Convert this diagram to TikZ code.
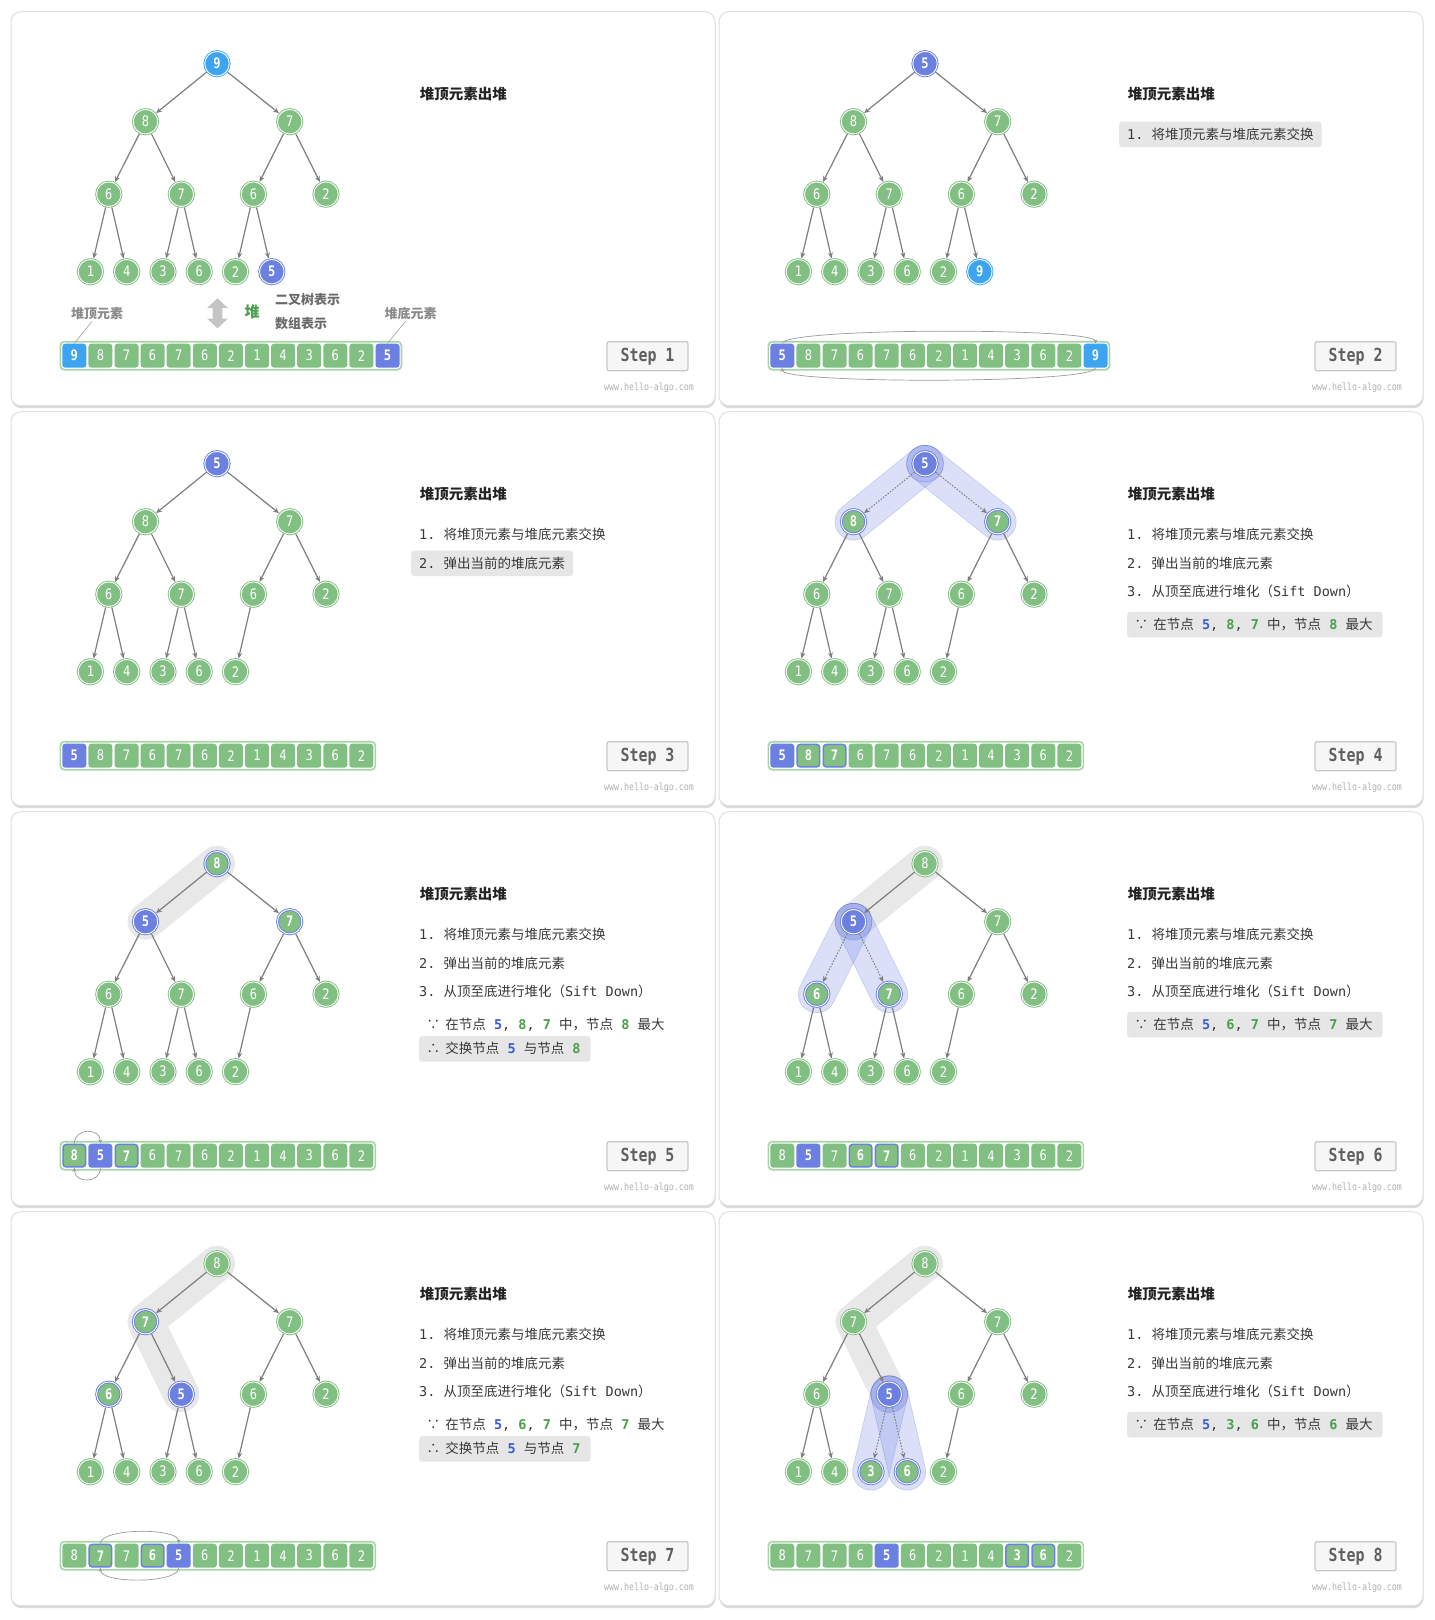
\documentclass[tikz,border=0pt]{standalone}
\usepackage{fontspec}
\setmainfont{Noto Sans CJK SC}
\newfontfamily\mono[FakeStretch=0.83]{DejaVu Sans Mono}
\newfontfamily\tmono{DejaVu Sans Mono}
\usetikzlibrary{arrows.meta}
\pgfdeclarelayer{back}\pgfdeclarelayer{bg}\pgfsetlayers{back,bg,main}
\definecolor{cG}{HTML}{82BF83}
\definecolor{cB}{HTML}{6B80E0}
\definecolor{cLB}{HTML}{3CA4F0}
\definecolor{cFrame}{HTML}{A8D4A8}
\definecolor{edgec}{HTML}{7E7E7E}
\definecolor{arcc}{HTML}{9A9A9A}
\definecolor{leadc}{HTML}{AAAAAA}
\definecolor{gbandc}{HTML}{E8E8E8}
\definecolor{bandF}{RGB}{127,146,233}
\definecolor{bandE}{RGB}{40,70,205}
\definecolor{hlc}{HTML}{E6E6E6}
\definecolor{txtc}{HTML}{383838}
\definecolor{ttlc}{HTML}{222222}
\definecolor{numbc}{HTML}{3D5AD6}
\definecolor{numgc}{HTML}{4A9E4F}
\definecolor{framec}{HTML}{E0E0E0}
\definecolor{shadowc}{HTML}{D9D9D9}
\definecolor{stepd}{HTML}{C8C8C8}
\definecolor{stepf}{HTML}{F6F6F6}
\definecolor{stept}{HTML}{5F5F5F}
\definecolor{wwwc}{HTML}{B0B0B0}
\definecolor{lblc}{HTML}{8A8A8A}
\definecolor{lbltc}{HTML}{6A6A6A}
\definecolor{dblc}{HTML}{C4C4C4}
\def\XS{{206,134.5,278.7,97.8,170.3,242.4,315,79.4,115.7,152,188.2,224.5,260.8}}
\def\YS{{52,110,110,182.5,182.5,182.5,182.5,260,260,260,260,260,260}}
\newcommand\hs{\hspace{8.13pt}}
\newcommand\numb[1]{{\tmono\bfseries\color{numbc}#1}}
\newcommand\numg[1]{{\tmono\bfseries\color{numgc}#1}}
\newcommand\tA{{\tmono 1.}\hs 将堆顶元素与堆底元素交换}
\newcommand\tB{{\tmono 2.}\hs 弹出当前的堆底元素}
\newcommand\tC{{\tmono 3.}\hs 从顶至底进行堆化（{\tmono Sift\hs Down}）}
\newcommand\becz[4]{\makebox[8.13pt]{∵}\hs 在节点\hs\numb{#1}{\tmono,}\hs\numg{#2}{\tmono,}\hs\numg{#3}\hs 中，节点\hs\numg{#4}\hs 最大}
\newcommand\thz[2]{\makebox[8.13pt]{∴}\hs 交换节点\hs\numb{#1}\hs 与节点\hs\numg{#2}}
\newcommand\drawtree[2]{%
  \foreach \v/\s/\e [count=\i from 0] in {#2}{%
    \pgfmathsetmacro\xx{\XS[\i]}%
    \pgfmathsetmacro\yy{\YS[\i]}%
    \node[\s] (#1n\i) at (\xx,\yy) {\v};%
    \ifnum\i>0\relax
      \pgfmathtruncatemacro\pp{(\i-1)/2}%
      \draw[\e] (#1n\pp) -- (#1n\i);%
    \fi
  }}
\newcommand\drawarr[3]{%
  \pgfmathsetmacro\xe{63.3+26.1*(#2-1)+14}%
  \draw[arrframe] (49.3,330) rectangle (\xe,358);%
  \foreach \v/\s [count=\i from 0] in {#3}{%
    \pgfmathsetmacro\xx{63.3+26.1*\i}%
    \node[\s] (#1a\i) at (\xx,344) {\v};%
  }}
\newcommand\swap[3]{%
  \draw[swaparc] (#1a#2.north) .. controls ([yshift=16pt]#1a#2.north) and ([yshift=16pt]#1a#3.north) .. (#1a#3.north);%
  \draw[swaparc] (#1a#3.south) .. controls ([yshift=-16pt]#1a#3.south) and ([yshift=-16pt]#1a#2.south) .. (#1a#2.south);}
\newcommand\panelbase[2]{%
  \begin{pgfonlayer}{back}%
    \fill[shadowc, rounded corners=10pt] (0.5,2) rectangle (704.5,396.5);%
    \filldraw[fill=white, draw=framec, line width=1pt, rounded corners=10pt] (0,0) rectangle (704,394);%
  \end{pgfonlayer}%
  \node[ttl] (#1t) at (408.6,82.6) {堆顶元素出堆};%
  \node[stepbox] (#1s) at (636.5,344.5) {Step #2};%
  \node[www] (#1w) at (638,375.6) {www.hello-algo.com};}
\newcommand\gband[1]{\begin{pgfonlayer}{bg}\draw[grayband] #1;\end{pgfonlayer}}
\newcommand\bband[2]{\begin{pgfonlayer}{bg}\begin{scope}[transparency group, opacity=0.28]%
  \draw[line width=37.5pt, line cap=round, draw=bandE] (#1.center) -- (#2.center);%
  \draw[line width=35.9pt, line cap=round, draw=bandF] (#1.center) -- (#2.center);%
  \end{scope}\end{pgfonlayer}}
\newcommand\halo[1]{\begin{pgfonlayer}{bg}\begin{scope}[transparency group, opacity=0.28]%
  \fill[bandE] (#1.center) circle[radius=18.7];%
  \fill[bandF] (#1.center) circle[radius=17.9];%
  \end{scope}\end{pgfonlayer}}
\begin{document}
\begin{tikzpicture}[x=1pt,y=-1pt,
  nd/.style={circle, minimum size=24.5pt, inner sep=0pt, outer sep=1.35pt, line width=0.9pt, double=white, double distance=0.9pt, text=white, font=\fontsize{14.5}{14.5}\selectfont\mono},
  ng/.style={nd, fill=cG, draw=cG},
  nb/.style={nd, fill=cB, draw=cB, font=\fontsize{14.5}{14.5}\selectfont\mono\bfseries},
  nlb/.style={nd, fill=cLB, draw=cLB, font=\fontsize{14.5}{14.5}\selectfont\mono\bfseries},
  nr/.style={nd, fill=cG, draw=cB, font=\fontsize{14.5}{14.5}\selectfont\mono\bfseries},
  cell/.style={rectangle, rounded corners=3pt, minimum width=24pt, minimum height=24pt, inner sep=0pt, text=white, font=\fontsize{14.5}{14.5}\selectfont\mono},
  cg/.style={cell, fill=cG},
  cb/.style={cell, fill=cB, font=\fontsize{14.5}{14.5}\selectfont\mono\bfseries},
  clb/.style={cell, fill=cLB, font=\fontsize{14.5}{14.5}\selectfont\mono\bfseries},
  cr/.style={cell, fill=cG, draw=cB, line width=1.5pt, minimum width=22.5pt, minimum height=22.5pt, font=\fontsize{14.5}{14.5}\selectfont\mono\bfseries},
  arrframe/.style={draw=cFrame, line width=1.6pt, fill=white, rounded corners=4pt},
  ed/.style={draw=edgec, line width=1.2pt, -{Stealth[length=6pt,width=5pt]}},
  dt/.style={ed, line width=1pt, dash pattern=on 1.5pt off 1.5pt},
  swaparc/.style={draw=arcc, line width=0.7pt, -{Stealth[length=4pt,width=3.6pt]}},
  leader/.style={draw=leadc, line width=0.7pt},
  grayband/.style={line width=36pt, line cap=round, line join=round, draw=gbandc},
  ttl/.style={anchor=west, inner sep=0pt, text=ttlc, font=\fontsize{14.5}{16}\selectfont\bfseries},
  ln/.style={anchor=west, inner xsep=8pt, inner ysep=0pt, minimum height=25.5pt, text height=11.5pt, text depth=1.6pt, text=txtc, font=\fontsize{13.5}{15}\selectfont},
  hlA/.style={ln, fill=hlc, rounded corners=3pt},
  lnB/.style={ln, inner xsep=10pt},
  hlB/.style={lnB, fill=hlc, rounded corners=3pt},
  stepbox/.style={draw=stepd, fill=stepf, line width=1.3pt, rounded corners=2pt, minimum width=81pt, minimum height=29pt, inner sep=0pt, text=stept, font=\fontsize{18}{18}\selectfont\mono\bfseries},
  www/.style={text=wwwc, inner sep=0pt, font=\fontsize{10}{10}\selectfont\mono},
  lbl/.style={text=lblc, inner sep=1.5pt, text height=11pt, text depth=1.5pt, font=\fontsize{13}{13}\selectfont\bfseries},
  lblt/.style={lbl, anchor=west, inner sep=0pt, text=lbltc},
  heapc/.style={text=numgc, inner sep=0pt, font=\fontsize{15}{15}\selectfont\bfseries}
]
\begin{pgfonlayer}{back}\fill[white] (0,0) rectangle (1435,1620);\end{pgfonlayer}
\useasboundingbox (0,0) rectangle (1435,1620);
% ---------- Step 1
\begin{scope}[shift={(11,11.7)}]
\panelbase{A}{1}
\drawtree{A}{9/nlb/ed,8/ng/ed,7/ng/ed,6/ng/ed,7/ng/ed,6/ng/ed,2/ng/ed,1/ng/ed,4/ng/ed,3/ng/ed,6/ng/ed,2/ng/ed,5/nb/ed}
\drawarr{A}{13}{9/clb,8/cg,7/cg,6/cg,7/cg,6/cg,2/cg,1/cg,4/cg,3/cg,6/cg,2/cg,5/cb}
\node[lbl] (Alt) at (86,301.6) {堆顶元素};
\node[lbl] (Alb) at (399.5,301.6) {堆底元素};
\draw[leader] ([xshift=-5pt]Alt.south) -- (Aa0.north);
\draw[leader] ([xshift=-5pt]Alb.south) -- (Aa12.north);
\fill[dblc] (206.5,286.6) -- (216.8,296.2) -- (211.3,296.2) -- (211.3,307) -- (216.8,307) -- (206.5,316.6) -- (196.2,307) -- (201.7,307) -- (201.7,296.2) -- (196.2,296.2) -- cycle;
\node[heapc] (Ah) at (241,300) {堆};
\node[lblt] (Ab1) at (264,288.3) {二叉树表示};
\node[lblt] (Ab2) at (264,312.3) {数组表示};
\end{scope}
% ---------- Step 2
\begin{scope}[shift={(719,11.7)}]
\panelbase{B}{2}
\drawtree{B}{5/nb/ed,8/ng/ed,7/ng/ed,6/ng/ed,7/ng/ed,6/ng/ed,2/ng/ed,1/ng/ed,4/ng/ed,3/ng/ed,6/ng/ed,2/ng/ed,9/nlb/ed}
\drawarr{B}{13}{5/cb,8/cg,7/cg,6/cg,7/cg,6/cg,2/cg,1/cg,4/cg,3/cg,6/cg,2/cg,9/clb}
\swap{B}{0}{12}
\node[hlA] (Bl1) at (400,122.6) {\tA};
\end{scope}
% ---------- Step 3
\begin{scope}[shift={(11,411.7)}]
\panelbase{C}{3}
\drawtree{C}{5/nb/ed,8/ng/ed,7/ng/ed,6/ng/ed,7/ng/ed,6/ng/ed,2/ng/ed,1/ng/ed,4/ng/ed,3/ng/ed,6/ng/ed,2/ng/ed}
\drawarr{C}{12}{5/cb,8/cg,7/cg,6/cg,7/cg,6/cg,2/cg,1/cg,4/cg,3/cg,6/cg,2/cg}
\node[ln] (Cl1) at (400,122.6) {\tA};
\node[hlA] (Cl2) at (400,151.6) {\tB};
\end{scope}
% ---------- Step 4
\begin{scope}[shift={(719,411.7)}]
\panelbase{D}{4}
\drawtree{D}{5/nb/ed,8/nr/dt,7/nr/dt,6/ng/ed,7/ng/ed,6/ng/ed,2/ng/ed,1/ng/ed,4/ng/ed,3/ng/ed,6/ng/ed,2/ng/ed}
\bband{Dn0}{Dn1}\bband{Dn0}{Dn2}\halo{Dn0}
\drawarr{D}{12}{5/cb,8/cr,7/cr,6/cg,7/cg,6/cg,2/cg,1/cg,4/cg,3/cg,6/cg,2/cg}
\node[ln] (Dl1) at (400,122.6) {\tA};
\node[ln] (Dl2) at (400,151.6) {\tB};
\node[ln] (Dl3) at (400,180) {\tC};
\node[hlB] (Dl4) at (408,212.8) {\becz{5}{8}{7}{8}};
\end{scope}
% ---------- Step 5
\begin{scope}[shift={(11,811.7)}]
\panelbase{E}{5}
\drawtree{E}{8/nr/ed,5/nb/ed,7/nr/ed,6/ng/ed,7/ng/ed,6/ng/ed,2/ng/ed,1/ng/ed,4/ng/ed,3/ng/ed,6/ng/ed,2/ng/ed}
\gband{(En0.center) -- (En1.center)}
\drawarr{E}{12}{8/cr,5/cb,7/cr,6/cg,7/cg,6/cg,2/cg,1/cg,4/cg,3/cg,6/cg,2/cg}
\swap{E}{0}{1}
\node[ln] (El1) at (400,122.6) {\tA};
\node[ln] (El2) at (400,151.6) {\tB};
\node[ln] (El3) at (400,180) {\tC};
\node[lnB] (El4) at (408,212.8) {\becz{5}{8}{7}{8}};
\node[hlB] (El5) at (408,237.2) {\thz{5}{8}};
\end{scope}
% ---------- Step 6
\begin{scope}[shift={(719,811.7)}]
\panelbase{F}{6}
\drawtree{F}{8/ng/ed,5/nb/ed,7/ng/ed,6/nr/dt,7/nr/dt,6/ng/ed,2/ng/ed,1/ng/ed,4/ng/ed,3/ng/ed,6/ng/ed,2/ng/ed}
\gband{(Fn0.center) -- (Fn1.center)}
\bband{Fn1}{Fn3}\bband{Fn1}{Fn4}\halo{Fn1}
\drawarr{F}{12}{8/cg,5/cb,7/cg,6/cr,7/cr,6/cg,2/cg,1/cg,4/cg,3/cg,6/cg,2/cg}
\node[ln] (Fl1) at (400,122.6) {\tA};
\node[ln] (Fl2) at (400,151.6) {\tB};
\node[ln] (Fl3) at (400,180) {\tC};
\node[hlB] (Fl4) at (408,212.8) {\becz{5}{6}{7}{7}};
\end{scope}
% ---------- Step 7
\begin{scope}[shift={(11,1211.7)}]
\panelbase{G}{7}
\drawtree{G}{8/ng/ed,7/nr/ed,7/ng/ed,6/nr/ed,5/nb/ed,6/ng/ed,2/ng/ed,1/ng/ed,4/ng/ed,3/ng/ed,6/ng/ed,2/ng/ed}
\gband{(Gn0.center) -- (Gn1.center) -- (Gn4.center)}
\drawarr{G}{12}{8/cg,7/cr,7/cg,6/cr,5/cb,6/cg,2/cg,1/cg,4/cg,3/cg,6/cg,2/cg}
\swap{G}{1}{4}
\node[ln] (Gl1) at (400,122.6) {\tA};
\node[ln] (Gl2) at (400,151.6) {\tB};
\node[ln] (Gl3) at (400,180) {\tC};
\node[lnB] (Gl4) at (408,212.8) {\becz{5}{6}{7}{7}};
\node[hlB] (Gl5) at (408,237.2) {\thz{5}{7}};
\end{scope}
% ---------- Step 8
\begin{scope}[shift={(719,1211.7)}]
\panelbase{H}{8}
\drawtree{H}{8/ng/ed,7/ng/ed,7/ng/ed,6/ng/ed,5/nb/ed,6/ng/ed,2/ng/ed,1/ng/ed,4/ng/ed,3/nr/dt,6/nr/dt,2/ng/ed}
\gband{(Hn0.center) -- (Hn1.center) -- (Hn4.center)}
\bband{Hn4}{Hn9}\bband{Hn4}{Hn10}\halo{Hn4}
\drawarr{H}{12}{8/cg,7/cg,7/cg,6/cg,5/cb,6/cg,2/cg,1/cg,4/cg,3/cr,6/cr,2/cg}
\node[ln] (Hl1) at (400,122.6) {\tA};
\node[ln] (Hl2) at (400,151.6) {\tB};
\node[ln] (Hl3) at (400,180) {\tC};
\node[hlB] (Hl4) at (408,212.8) {\becz{5}{3}{6}{6}};
\end{scope}
\end{tikzpicture}
\end{document}
